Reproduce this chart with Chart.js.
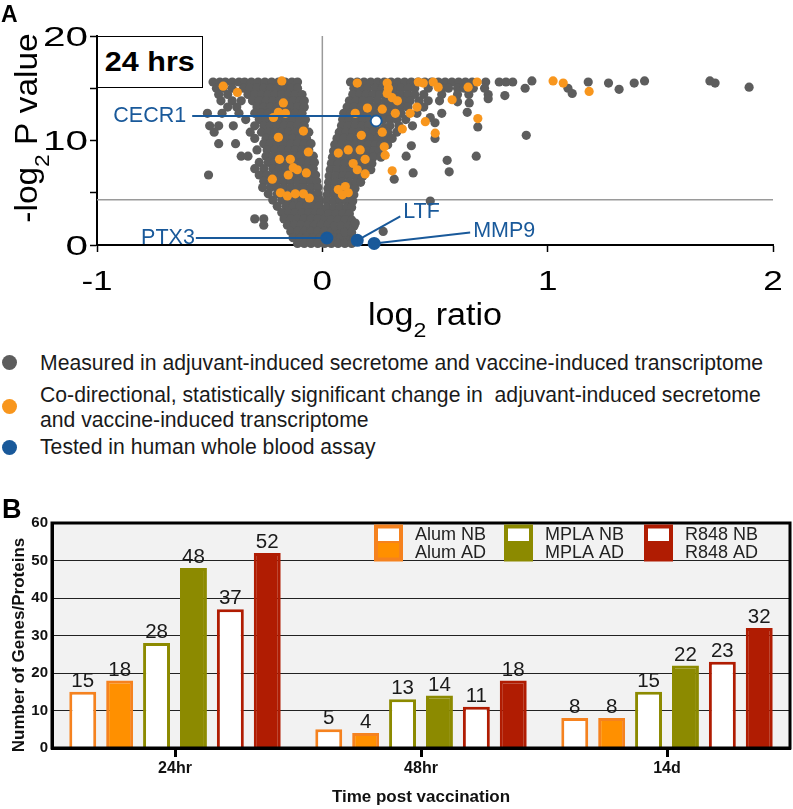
<!DOCTYPE html>
<html><head><meta charset="utf-8">
<script src="https://cdn.jsdelivr.net/npm/chart.js@4.4.1/dist/chart.umd.min.js"></script>
<style>
html,body{margin:0;padding:0;background:#fff;}
#wrap{position:relative;width:793px;height:809px;overflow:hidden;font-family:"Liberation Sans",Arial,sans-serif;}
canvas{position:absolute;left:0;}
.panel{position:absolute;font-weight:bold;color:#000;line-height:1;}
.leg{position:absolute;left:40px;font-size:21.2px;line-height:24px;color:#1a1a1a;white-space:nowrap;}
.dot{position:absolute;left:2px;width:15px;height:15px;border-radius:50%;}
#box24{position:absolute;left:97px;top:36px;width:106px;height:52px;box-sizing:border-box;border:1.5px solid #000;background:#fff;font-weight:bold;font-size:27px;display:flex;align-items:center;justify-content:center;}
#box24 span{display:inline-block;transform:scaleX(1.13);}
</style></head>
<body><div id="wrap">
<canvas id="cA" width="793" height="345" style="top:0"></canvas>
<div id="box24"><span>24 hrs</span></div>
<div class="panel" style="left:1px;top:3px;font-size:23px;">A</div>
<div class="dot" style="top:355px;background:#5d5d5d"></div>
<div class="leg" style="top:351px">Measured in adjuvant-induced secretome and vaccine-induced transcriptome</div>
<div class="dot" style="top:399px;background:#f8961d"></div>
<div class="leg" style="top:383px">Co-directional, statistically significant change in&nbsp; adjuvant-induced secretome</div>
<div class="leg" style="top:408px">and vaccine-induced transcriptome</div>
<div class="dot" style="top:440px;background:#19599a"></div>
<div class="leg" style="top:435px">Tested in human whole blood assay</div>
<canvas id="cB" width="793" height="339" style="top:470px"></canvas>
<div class="panel" style="left:2px;top:496px;font-size:27px;">B</div>
</div>
<script>
// ---------------- Panel A data (log2 ratio, -log2 P value) ----------------
const pThreshold = 4.32;
// rows: [y, x1, x2, ...]
const grayLeftRows = [
 [15.6,-0.485,-0.455,-0.43,-0.40,-0.37,-0.345,-0.315,-0.285,-0.255,-0.225,-0.195,-0.165,-0.135,-0.11],
 [15.0,-0.47,-0.44,-0.40,-0.35,-0.32,-0.29,-0.26,-0.23,-0.20,-0.17,-0.14,-0.11],
 [14.4,-0.46,-0.42,-0.33,-0.30,-0.27,-0.24,-0.21,-0.18,-0.15,-0.12,-0.09],
 [13.8,-0.45,-0.40,-0.36,-0.31,-0.28,-0.25,-0.22,-0.19,-0.16,-0.13,-0.10,-0.08],
 [13.2,-0.42,-0.38,-0.29,-0.26,-0.23,-0.20,-0.17,-0.14,-0.11,-0.08],
 [12.6,-0.51,-0.445,-0.37,-0.30,-0.27,-0.24,-0.21,-0.18,-0.15,-0.12,-0.09],
 [12.0,-0.34,-0.28,-0.25,-0.22,-0.19,-0.16,-0.13,-0.10,-0.075],
 [11.4,-0.50,-0.46,-0.395,-0.30,-0.26,-0.23,-0.20,-0.17,-0.14,-0.11,-0.08],
 [10.8,-0.48,-0.32,-0.27,-0.24,-0.21,-0.18,-0.15,-0.12,-0.09,-0.06],
 [10.2,-0.30,-0.25,-0.22,-0.19,-0.16,-0.13,-0.10,-0.07],
 [9.7,-0.46,-0.385,-0.26,-0.23,-0.20,-0.17,-0.14,-0.11,-0.08,-0.05],
 [9.1,-0.29,-0.245,-0.21,-0.18,-0.15,-0.12,-0.09,-0.06],
 [8.5,-0.36,-0.33,-0.25,-0.22,-0.19,-0.16,-0.13,-0.10,-0.07,-0.04],
 [7.9,-0.28,-0.24,-0.21,-0.18,-0.15,-0.12,-0.09,-0.06,-0.035],
 [7.3,-0.30,-0.26,-0.22,-0.19,-0.16,-0.13,-0.10,-0.07,-0.04],
 [6.7,-0.505,-0.28,-0.245,-0.21,-0.18,-0.15,-0.12,-0.09,-0.06,-0.03],
 [6.1,-0.26,-0.23,-0.20,-0.17,-0.14,-0.11,-0.08,-0.05,-0.025],
 [5.5,-0.265,-0.23,-0.20,-0.17,-0.14,-0.11,-0.08,-0.05,-0.02],
 [4.9,-0.24,-0.20,-0.17,-0.14,-0.11,-0.08,-0.05,-0.02],
 [4.3,-0.22,-0.18,-0.15,-0.12,-0.09,-0.06,-0.03,-0.01],
 [3.7,-0.20,-0.16,-0.13,-0.10,-0.07,-0.04,-0.015],
 [3.1,-0.18,-0.15,-0.12,-0.09,-0.06,-0.03,-0.005],
 [2.5,-0.30,-0.26,-0.17,-0.14,-0.11,-0.08,-0.05,-0.02,0.01],
 [1.9,-0.26,-0.155,-0.125,-0.095,-0.065,-0.035,-0.005,0.025],
 [1.3,-0.14,-0.11,-0.08,-0.05,-0.02,0.01,0.04,0.07],
 [0.7,-0.13,-0.10,-0.07,-0.04,-0.01,0.02,0.05,0.08,0.11],
 [0.15,-0.11,-0.08,-0.05,-0.02,0.01,0.04,0.07,0.10,0.13]
];
const grayRightRows = [
 [15.6,0.125,0.155,0.185,0.215,0.245,0.275,0.305,0.335,0.365,0.395,0.425,0.455,0.485,0.515,0.545,0.575,0.605,0.635,0.665,0.725,0.785,0.815,0.845],
 [15.0,0.14,0.17,0.20,0.235,0.265,0.32,0.35,0.38,0.41,0.47,0.53,0.56,0.60,0.63,0.67,0.72],
 [14.4,0.135,0.165,0.195,0.225,0.255,0.32,0.35,0.38,0.41,0.45,0.53,0.60,0.65],
 [13.8,0.12,0.15,0.18,0.21,0.245,0.28,0.31,0.36,0.39,0.43,0.47,0.52],
 [13.2,0.11,0.14,0.17,0.20,0.23,0.26,0.29,0.32,0.35,0.38,0.45],
 [12.6,0.095,0.125,0.155,0.185,0.215,0.245,0.275,0.30,0.35,0.42],
 [12.0,0.09,0.12,0.15,0.18,0.21,0.24,0.27,0.30,0.33,0.37],
 [11.4,0.085,0.115,0.145,0.175,0.205,0.235,0.265,0.30,0.34,0.40],
 [10.8,0.075,0.105,0.135,0.165,0.195,0.225,0.255,0.29,0.33],
 [10.2,0.065,0.095,0.125,0.155,0.185,0.215,0.245,0.28,0.31],
 [9.6,0.055,0.085,0.115,0.145,0.175,0.205,0.235,0.26,0.29],
 [9.0,0.05,0.08,0.11,0.14,0.17,0.20,0.23,0.25],
 [8.4,0.045,0.075,0.105,0.135,0.165,0.195,0.225,0.26],
 [7.8,0.04,0.07,0.10,0.13,0.16,0.19,0.22],
 [7.2,0.035,0.065,0.095,0.125,0.155,0.185,0.215],
 [6.6,0.03,0.06,0.09,0.12,0.15,0.18],
 [6.0,0.028,0.058,0.088,0.118,0.148,0.17],
 [5.4,0.025,0.055,0.085,0.115,0.145],
 [4.8,0.022,0.052,0.082,0.112,0.14],
 [4.2,0.02,0.05,0.08,0.11,0.135],
 [3.6,0.02,0.05,0.08,0.11,0.13],
 [3.0,0.03,0.06,0.09,0.12],
 [2.4,0.04,0.07,0.10,0.13],
 [1.8,0.055,0.085,0.115,0.14],
 [1.2,0.10,0.13],
 [0.6,0.14]
];
const grayOutliers = [
 [0.146,2.1],[0.27,1.3],[0.479,4.2],[0.319,6.3],[0.403,6.9],[0.563,7.0],[0.554,8.1],[0.372,8.5],
 [0.683,8.5],[0.395,9.5],[0.5,10.2],[0.905,10.5],[0.69,11.3],[0.5,11.7],[0.479,12.2],[0.53,12.6],
 [0.643,12.7],[0.652,13.6],[0.6,13.7],[0.736,14.4],[0.736,14.0],[0.81,14.3],[0.90,15.0],[0.93,15.7],
 [1.09,15.0],[1.109,14.5],[1.18,15.6],[1.27,15.5],[1.317,14.9],[1.384,15.5],[1.43,15.7],[1.72,15.7],
 [1.743,15.5],[1.894,15.1]
];
const orangePoints = [
 [-0.44,15.2],[-0.377,14.6],[-0.18,15.7],[-0.173,13.6],[-0.195,12.7],[-0.164,12.6],[-0.217,12.2],
 [-0.084,10.9],[-0.195,10.3],[-0.062,8.9],[-0.19,8.2],[-0.142,8.2],[-0.129,7.4],[-0.151,6.7],
 [-0.111,7.2],[-0.071,6.9],[-0.222,6.3],[-0.186,5.0],[-0.155,4.7],[-0.12,4.9],[-0.084,4.9],[-0.058,4.5],
 [0.155,15.5],[0.288,15.5],[0.293,15.0],[0.288,14.5],[0.426,15.6],[0.448,15.5],[0.492,15.6],[0.514,15.1],
 [0.31,14.1],[0.333,13.8],[0.576,13.9],[0.2,13.1],[0.146,12.6],[0.266,13.0],[0.324,12.6],[0.39,12.6],
 [0.42,13.2],[0.244,11.7],[0.266,10.8],[0.355,11.1],[0.457,11.8],[0.501,10.7],[0.173,10.5],[0.115,9.1],
 [0.071,8.8],[0.168,9.1],[0.275,9.4],[0.279,8.6],[0.19,8.2],[0.137,7.8],[0.155,7.2],[0.19,6.8],
 [0.31,7.1],[0.071,5.3],[0.102,5.6],[0.115,5.0],[0.089,4.8],[0.69,12.1],[0.647,15.1],[0.687,15.6],
 [1.024,15.7],[1.069,15.5],[1.184,14.7]
];
const blueGenes = ['CECR1','PTX3','LTF','MMP9'];
const blueX = [0.239, 0.02, 0.155, 0.23];
const blueY = [11.87, 0.67, 0.45, 0.15];
const openGenes = ['CECR1'];

// ---------------- Panel B data ----------------
const timepoints = ['24hr','48hr','14d'];
const alumNB = [15, 5, 8];
const alumAD = [18, 4, 8];
const mplaNB = [28, 13, 15];
const mplaAD = [48, 14, 22];
const r848NB = [37, 11, 23];
const r848AD = [52, 18, 32];

// ---------------- styles ----------------
const FONT = '"Liberation Sans", Arial, sans-serif';
const GRAY = '#5d5d5d', ORANGE = '#f8961d', BLUE = '#19599a';
const ALUM = '#f5821f', ALUM_FILL = '#ff9000', OLIVE = '#8c8a00', RED = '#b01c02';

const toPts = rows => rows.flatMap(([y, ...xs]) => xs.map(x => ({x, y})));
const grayData = toPts(grayLeftRows).concat(toPts(grayRightRows), grayOutliers.map(([x,y]) => ({x,y})));
const orangeData = orangePoints.map(([x,y]) => ({x,y}));
const blueData = blueGenes.map((g,i) => ({x: blueX[i], y: blueY[i]}));

const refLines = {
  id: 'refLines',
  beforeDatasetsDraw(chart) {
    const {ctx, chartArea: a, scales: {x, y}} = chart;
    ctx.save();
    ctx.strokeStyle = '#9a9a9a'; ctx.lineWidth = 1.5;
    const x0 = x.getPixelForValue(0);
    ctx.beginPath(); ctx.moveTo(x0, a.top); ctx.lineTo(x0, a.bottom); ctx.stroke();
    const yt = y.getPixelForValue(pThreshold);
    ctx.beginPath(); ctx.moveTo(a.left, yt); ctx.lineTo(a.right, yt); ctx.stroke();
    ctx.restore();
  }
};

const labelLayout = {
  CECR1: {tx: -190, ty: -5, align: 'right', l1: [-184, -5], l2: [-5, -5]},
  PTX3:  {tx: -132, ty: 0, align: 'right', l1: [-131, 0], l2: [0, 0]},
  LTF:   {tx: 46, ty: -28, align: 'left', l1: [0, 0], l2: [43, -24]},
  MMP9:  {tx: 99, ty: -12, align: 'left', l1: [0, 0], l2: [96, -11]}
};
const geneLabels = {
  id: 'geneLabels',
  afterDatasetsDraw(chart) {
    const {ctx, scales: {x, y}} = chart;
    ctx.save();
    ctx.font = '21.5px ' + FONT;
    ctx.fillStyle = BLUE; ctx.strokeStyle = BLUE; ctx.lineWidth = 2;
    ctx.textBaseline = 'middle';
    blueGenes.forEach((g, i) => {
      const px = x.getPixelForValue(blueX[i]), py = y.getPixelForValue(blueY[i]);
      const L = labelLayout[g];
      ctx.beginPath(); ctx.moveTo(px + L.l1[0], py + L.l1[1]); ctx.lineTo(px + L.l2[0], py + L.l2[1]); ctx.stroke();
      ctx.textAlign = L.align;
      ctx.fillText(g, px + L.tx, py + L.ty);
    });
    ctx.restore();
  }
};

function drawSub(ctx, parts, cx, baseY, sx) {
  let total = 0;
  parts.forEach(p => { ctx.font = p[1] + 'px ' + FONT; p.w = ctx.measureText(p[0]).width; total += p.w; });
  ctx.save();
  ctx.translate(cx - total * sx / 2, baseY);
  ctx.scale(sx, 1);
  ctx.textAlign = 'left'; ctx.textBaseline = 'alphabetic';
  let x = 0;
  parts.forEach(p => { ctx.font = p[1] + 'px ' + FONT; ctx.fillText(p[0], x, p[2]); x += p.w; });
  ctx.restore();
}
const axisTextA = {
  id: 'axisTextA',
  afterDraw(chart) {
    const {ctx, chartArea: a, scales: {x, y}} = chart;
    ctx.save();
    ctx.fillStyle = '#000';
    // tick labels (drawn from the scales' own ticks)
    ctx.font = '27px ' + FONT; ctx.textBaseline = 'alphabetic';
    x.ticks.forEach(t => {
      const px = x.getPixelForValue(t.value);
      ctx.save(); ctx.translate(px, 290); ctx.scale(1.3, 1); ctx.textAlign = 'center';
      ctx.fillText(String(t.value), 0, 0); ctx.restore();
    });
    y.ticks.forEach(t => {
      if (t.value % 10 !== 0) return;
      const py = y.getPixelForValue(t.value);
      ctx.save(); ctx.translate(88, py + 9.7); ctx.scale(1.5, 1); ctx.textAlign = 'right';
      ctx.fillText(String(t.value), 0, 0); ctx.restore();
    });
    // axis titles with subscripts
    drawSub(ctx, [['log', 31, 0], ['2', 21, 12], [' ratio', 31, 0]], (a.left + a.right) / 2, 325, 1.1);
    ctx.translate(37, 128);
    ctx.rotate(-Math.PI / 2);
    drawSub(ctx, [['-log', 31, 0], ['2', 21, 12], [' P value', 31, 0]], 0, 0, 1.08);
    ctx.restore();
  }
};

new Chart(document.getElementById('cA'), {
  type: 'scatter',
  data: { datasets: [
    { label: 'Tested in human whole blood assay', data: blueData, order: 1, clip: false,
      pointRadius: 5.5, pointBorderWidth: 2, pointBorderColor: BLUE,
      pointBackgroundColor: blueGenes.map(g => openGenes.includes(g) ? '#ffffff' : BLUE) },
    { label: 'Co-directional', data: orangeData, order: 2, clip: false,
      pointRadius: 4.6, pointBorderWidth: 0, pointBackgroundColor: ORANGE },
    { label: 'Measured', data: grayData, order: 3, clip: false,
      pointRadius: 4.6, pointBorderWidth: 0, pointBackgroundColor: GRAY }
  ]},
  options: {
    responsive: false, animation: false, events: [],
    layout: { padding: { top: 36, right: 20, left: 0, bottom: 0 } },
    plugins: { legend: { display: false }, tooltip: { enabled: false } },
    scales: {
      x: { type: 'linear', min: -1, max: 2,
        ticks: { stepSize: 1, display: false },
        grid: { drawOnChartArea: false, drawTicks: true, tickLength: 7, tickWidth: 1.5, tickColor: '#000' },
        border: { display: true, color: '#000', width: 2 },
        afterFit(s) { s.height = 100; } },
      y: { type: 'linear', min: 0, max: 20,
        ticks: { stepSize: 5, display: false },
        grid: { drawOnChartArea: false, drawTicks: true, tickLength: 7, tickWidth: 1.5, tickColor: '#000' },
        border: { display: true, color: '#000', width: 2 },
        afterFit(s) { s.width = 97; } }
    }
  },
  plugins: [refLines, geneLabels, axisTextA]
});

// ---------------- Panel B ----------------
const bgPlugin = {
  id: 'bg',
  beforeDraw(chart) {
    const {ctx, chartArea: a} = chart;
    ctx.save(); ctx.fillStyle = '#f2f2f2'; ctx.fillRect(a.left, a.top, a.width, a.height); ctx.restore();
  }
};
const framePlugin = {
  id: 'frame',
  afterDatasetsDraw(chart) {
    const {ctx, chartArea: a} = chart;
    ctx.save(); ctx.strokeStyle = '#000'; ctx.lineWidth = 3;
    ctx.strokeRect(a.left, a.top, a.width, a.height); ctx.restore();
  }
};
const valueLabels = {
  id: 'valueLabels',
  afterDatasetsDraw(chart) {
    const {ctx} = chart;
    ctx.save();
    ctx.font = '20.5px ' + FONT; ctx.fillStyle = '#1a1a1a';
    ctx.textAlign = 'center'; ctx.textBaseline = 'alphabetic';
    chart.data.datasets.forEach((ds, di) => {
      chart.getDatasetMeta(di).data.forEach((bar, i) => {
        ctx.fillText(String(ds.data[i]), bar.x, bar.y - 5);
      });
    });
    ctx.restore();
  }
};
const yTitleB = {
  id: 'yTitleB',
  afterDraw(chart) {
    const {ctx} = chart;
    ctx.save();
    ctx.translate(24, 175);
    ctx.rotate(-Math.PI / 2);
    ctx.font = 'bold 17px ' + FONT; ctx.fillStyle = '#111';
    ctx.textAlign = 'center'; ctx.textBaseline = 'alphabetic';
    ctx.fillText('Number of Genes/Proteins', 0, 0);
    ctx.restore();
  }
};
const legendItems = [['Alum', ALUM, ALUM_FILL, 322], ['MPLA', OLIVE, OLIVE, 452], ['R848', RED, RED, 592]];
const barLegend = {
  id: 'barLegend',
  afterDraw(chart) {
    const {ctx, chartArea: a} = chart;
    ctx.save();
    const top = a.top + 1.5, h = 18.5, w = 29;
    ctx.font = '18px ' + FONT; ctx.textBaseline = 'middle'; ctx.textAlign = 'left';
    legendItems.forEach(([name, border, fill, dx]) => {
      const x = a.left + dx;
      ctx.fillStyle = border; ctx.fillRect(x, top, w, 2 * h);
      ctx.fillStyle = '#fff'; ctx.fillRect(x + 4, top + 4, w - 8, h - 6);
      ctx.fillStyle = fill; ctx.fillRect(x + 4, top + h, w - 8, h - 4);
      ctx.fillStyle = '#222';
      ctx.fillText(name + ' NB', x + 41, top + h / 2 + 1);
      ctx.fillText(name + ' AD', x + 41, top + h * 1.5 + 1);
    });
    ctx.restore();
  }
};
const barDs = (label, data, border, fill) => ({ label, data, backgroundColor: fill, borderColor: border, borderWidth: 3 });

new Chart(document.getElementById('cB'), {
  type: 'bar',
  data: { labels: timepoints, datasets: [
    barDs('Alum NB', alumNB, ALUM, '#ffffff'),
    barDs('Alum AD', alumAD, ALUM, ALUM_FILL),
    barDs('MPLA NB', mplaNB, OLIVE, '#ffffff'),
    barDs('MPLA AD', mplaAD, OLIVE, OLIVE),
    barDs('R848 NB', r848NB, RED, '#ffffff'),
    barDs('R848 AD', r848AD, RED, RED)
  ]},
  options: {
    responsive: false, animation: false, events: [],
    layout: { padding: { top: 53, right: 3, left: 0, bottom: 0 } },
    datasets: { bar: { categoryPercentage: 0.9, barPercentage: 0.73 } },
    plugins: { legend: { display: false }, tooltip: { enabled: false } },
    scales: {
      x: { grid: { display: true, drawOnChartArea: false, offset: false, drawTicks: true, tickLength: 9, tickWidth: 3, tickColor: '#000' },
        border: { display: true, color: '#000', width: 3 },
        ticks: { font: { family: FONT, size: 16, weight: 'bold' }, color: '#111', padding: 2 },
        title: { display: true, text: 'Time post vaccination', font: { family: FONT, size: 17, weight: 'bold' }, color: '#111', padding: { top: 0, bottom: 1 } },
        afterFit(s) { s.height = 61; } },
      y: { min: 0, max: 60,
        ticks: { stepSize: 10, font: { family: FONT, size: 15, weight: 'bold' }, color: '#111', padding: 4 },
        grid: { color: '#222', lineWidth: 1, drawTicks: false },
        border: { display: true, color: '#000', width: 3 },
        title: { display: false },
        afterFit(s) { s.width = 52; } }
    }
  },
  plugins: [bgPlugin, framePlugin, valueLabels, yTitleB, barLegend]
});
</script>
</body></html>
